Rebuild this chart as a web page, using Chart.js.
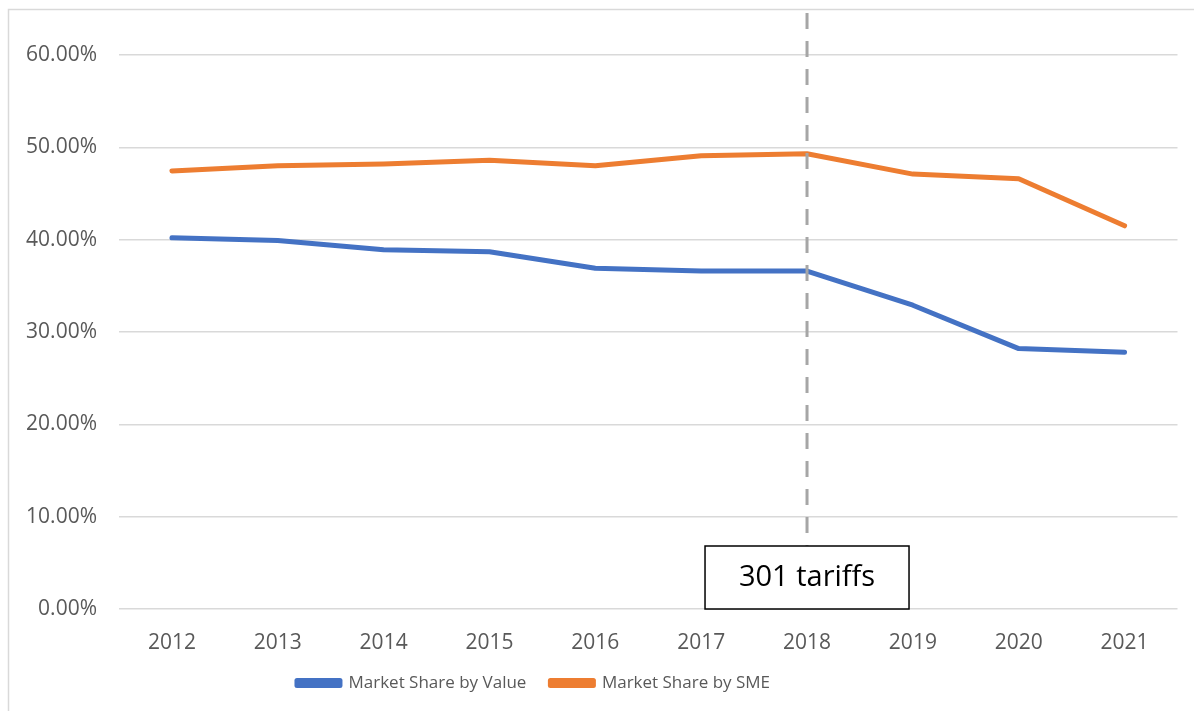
<!DOCTYPE html>
<html>
<head>
<meta charset="utf-8">
<script src="https://cdn.jsdelivr.net/npm/chart.js@4.4.0/dist/chart.umd.min.js"></script>
<style>
  html, body { margin: 0; padding: 0; background: #fff; }
  #wrap { position: relative; width: 1194px; height: 711px; }
</style>
</head>
<body>
<div id="wrap"><canvas id="shareChart" width="1194" height="711"></canvas></div>
<script>
const years = ['2012', '2013', '2014', '2015', '2016', '2017', '2018', '2019', '2020', '2021'];
const shareByValue = [40.2, 39.9, 38.9, 38.7, 36.9, 36.6, 36.6, 32.9, 28.2, 27.8];
const shareBySme = [47.45, 48.0, 48.2, 48.6, 48.0, 49.1, 49.3, 47.1, 46.6, 41.5];
const yTicks = [0, 10, 20, 30, 40, 50, 60];
const markerYear = '2018';
const markerText = '301 tariffs';

const FONT = "'Open Sans', 'Noto Sans', sans-serif";
const LEGEND_PAD = 24;

// white page + thin frame like the Excel chart area
const frame = {
  id: 'frame',
  beforeDraw(chart) {
    const ctx = chart.ctx;
    ctx.save();
    ctx.fillStyle = '#fff';
    ctx.fillRect(0, 0, chart.width, chart.height);
    ctx.strokeStyle = '#d9d9d9';
    ctx.lineWidth = 1.5;
    ctx.strokeRect(8.5, 9.5, chart.width + 20, chart.height + 20);
    ctx.restore();
  }
};

// dashed marker line + label box
const tariffMarker = {
  id: 'tariffMarker',
  afterDatasetsDraw(chart) {
    const ctx = chart.ctx;
    const area = chart.chartArea;
    const x = chart.scales.x.getPixelForValue(years.indexOf(markerYear));
    const boxW = 204, boxH = 63;
    const boxTop = area.bottom - boxH;

    ctx.save();
    ctx.strokeStyle = '#a6a6a6';
    ctx.lineWidth = 3;
    ctx.setLineDash([16, 12]);
    ctx.beginPath();
    ctx.moveTo(x, area.top - 42);
    ctx.lineTo(x, boxTop);
    ctx.stroke();
    ctx.setLineDash([]);

    ctx.fillStyle = '#fff';
    ctx.fillRect(x - boxW / 2, boxTop, boxW, boxH);
    ctx.strokeStyle = '#000';
    ctx.lineWidth = 1.5;
    ctx.strokeRect(x - boxW / 2, boxTop, boxW, boxH);

    ctx.fillStyle = '#000';
    ctx.font = '29px ' + FONT;
    ctx.textAlign = 'center';
    ctx.textBaseline = 'middle';
    ctx.fillText(markerText, x, boxTop + boxH / 2);
    ctx.restore();
  }
};

// Excel puts the legend row left of centre (row centre ~ x 533)
const legendShift = {
  id: 'legendShift',
  afterLayout(chart) {
    const lg = chart.legend;
    lg.right = 1067 - lg.left;
  }
};

new Chart(document.getElementById('shareChart'), {
  type: 'line',
  data: {
    labels: years,
    datasets: [
      {
        label: 'Market Share by Value',
        data: shareByValue,
        borderColor: '#4472c4',
        backgroundColor: '#4472c4',
        borderWidth: 5,
        borderCapStyle: 'round',
        borderJoinStyle: 'round',
        pointRadius: 0,
        tension: 0
      },
      {
        label: 'Market Share by SME',
        data: shareBySme,
        borderColor: '#ed7d31',
        backgroundColor: '#ed7d31',
        borderWidth: 5,
        borderCapStyle: 'round',
        borderJoinStyle: 'round',
        pointRadius: 0,
        tension: 0
      }
    ]
  },
  options: {
    responsive: false,
    animation: false,
    layout: { padding: { top: 55, right: 16.5, bottom: 9.5, left: 0 } },
    plugins: {
      legend: {
        position: 'bottom',
        labels: {
          boxWidth: 43,
          boxHeight: 5,
          padding: LEGEND_PAD,
          color: '#595959',
          font: { family: FONT, size: 17 }
        }
      },
      tooltip: { enabled: false }
    },
    scales: {
      x: {
        offset: true,
        grid: { display: false, drawTicks: false },
        border: { display: false },
        ticks: { color: '#595959', padding: 21, font: { family: FONT, size: 21 } },
        afterFit(scale) { scale.height = 65.5 - LEGEND_PAD; }
      },
      y: {
        min: 0,
        max: 60,
        afterBuildTicks(scale) { scale.ticks = yTicks.map(v => ({ value: v })); },
        grid: { color: '#d9d9d9', lineWidth: 1.5, drawTicks: false },
        border: { display: false },
        ticks: {
          color: '#595959',
          padding: 22,
          font: { family: FONT, size: 21 },
          callback: v => v.toFixed(2) + '%'
        },
        afterFit(scale) { scale.width = 119; }
      }
    }
  },
  plugins: [frame, tariffMarker, legendShift]
});
</script>
</body>
</html>
